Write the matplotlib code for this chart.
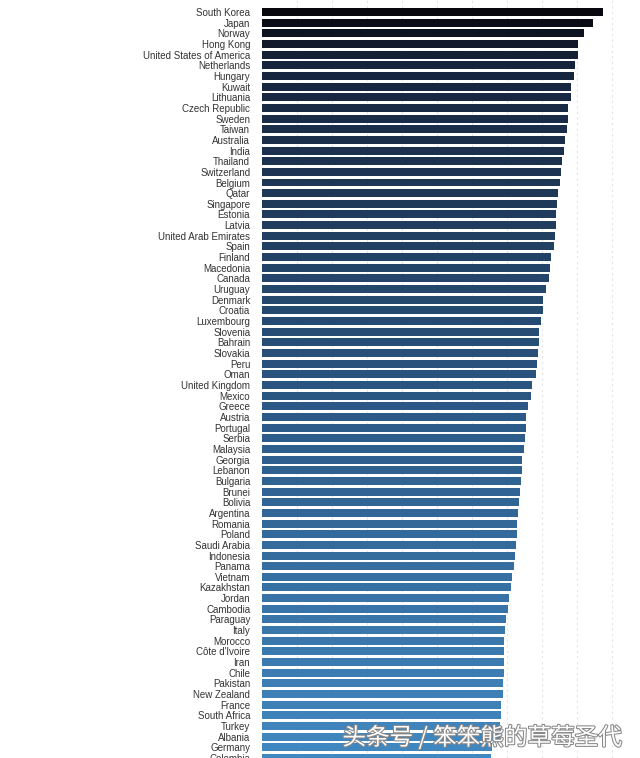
import numpy as np
from matplotlib import pyplot as plt
from matplotlib.colors import LinearSegmentedColormap
import matplotlib.patheffects as pe

countries = [
    "South Korea", "Japan", "Norway", "Hong Kong", "United States of America",
    "Netherlands", "Hungary", "Kuwait", "Lithuania", "Czech Republic",
    "Sweden", "Taiwan", "Australia", "India", "Thailand", "Switzerland",
    "Belgium", "Qatar", "Singapore", "Estonia", "Latvia",
    "United Arab Emirates", "Spain", "Finland", "Macedonia", "Canada",
    "Uruguay", "Denmark", "Croatia", "Luxembourg", "Slovenia", "Bahrain",
    "Slovakia", "Peru", "Oman", "United Kingdom", "Mexico", "Greece",
    "Austria", "Portugal", "Serbia", "Malaysia", "Georgia", "Lebanon",
    "Bulgaria", "Brunei", "Bolivia", "Argentina", "Romania", "Poland",
    "Saudi Arabia", "Indonesia", "Panama", "Vietnam", "Kazakhstan", "Jordan",
    "Cambodia", "Paraguay", "Italy", "Morocco", "Côte d'Ivoire", "Iran",
    "Chile", "Pakistan", "New Zealand", "France", "South Africa", "Turkey",
    "Albania", "Germany", "Colombia",
]
# bar lengths (gridline every 10 units)
values = [
    97.4, 94.6, 92.0, 90.3, 90.3, 89.4, 89.1, 88.3, 88.3, 87.4,
    87.4, 87.1, 86.6, 86.3, 85.7, 85.4, 85.1, 84.6, 84.3, 84.0,
    84.0, 83.7, 83.4, 82.6, 82.3, 82.0, 81.1, 80.3, 80.3, 79.7,
    79.1, 79.1, 78.9, 78.6, 78.3, 77.1, 76.9, 76.0, 75.4, 75.4,
    75.1, 74.9, 74.3, 74.3, 74.0, 73.7, 73.4, 73.1, 72.9, 72.9,
    72.6, 72.3, 72.0, 71.4, 71.1, 70.6, 70.3, 69.7, 69.4, 69.1,
    69.1, 69.1, 69.1, 68.9, 68.9, 68.3, 68.3, 68.0, 68.0, 65.7,
    65.4,
]

n = len(countries)
# dark navy at the top fading to steel blue at the bottom
cmap = LinearSegmentedColormap.from_list(
    "bars", [(0, "#07070d"), (0.06, "#16223a"), (0.3, "#213f60"),
             (0.55, "#2c5a88"), (1, "#4288c0")])
colors = cmap(np.linspace(0, 1, n))

fig = plt.figure(figsize=(6.4, 7.58), dpi=100)
ax = fig.add_axes([262 / 640, 0, 1 - 262 / 640, 1])
ypos = np.arange(n)
ax.barh(ypos, values, height=0.75, color=colors, zorder=2)

ax.set_xlim(0, 108)
ax.set_ylim((758 - 12) / 10.67, -12 / 10.67)
ax.set_yticks(ypos)
ax.set_yticklabels(countries, fontsize=7.0, color="#333333", family="Liberation Sans")
ax.tick_params(axis="y", length=0, pad=8.5)
ax.set_xticks(np.arange(10, 110, 10))
ax.tick_params(axis="x", length=0, labelbottom=False)
ax.grid(axis="x", ls=(0, (2, 3)), c="#e4e4e4", lw=0.8, zorder=0)
for s in ax.spines.values():
    s.set_visible(False)

fig.text(0.535, 0.027, "头条号 / 笨笨熊的草莓圣代", fontsize=17, color="white",
         family=["Noto Sans CJK SC", "DejaVu Sans"], ha="left", va="center",
         path_effects=[pe.withStroke(linewidth=1.5, foreground="#888888")])

plt.savefig("out.png", dpi=100)
